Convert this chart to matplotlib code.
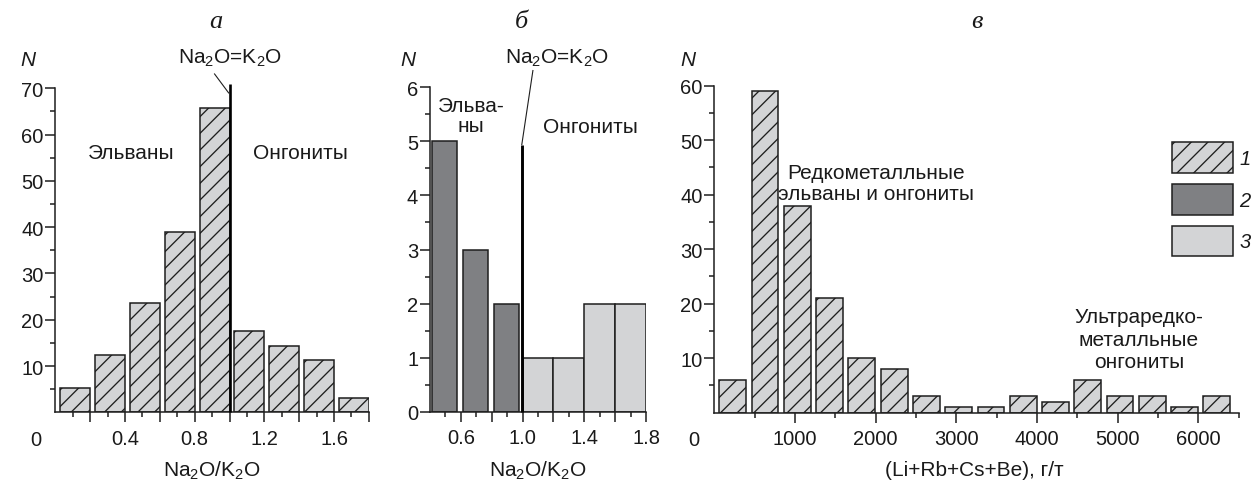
import numpy as np
import matplotlib
matplotlib.use("Agg")
import matplotlib.pyplot as plt
from matplotlib.patches import Patch

# ---------------- data ----------------
# (a) Na2O/K2O, all rare-metal dykes: bin left edges and counts
a_bin_left = [0.0, 0.2, 0.4, 0.6, 0.8, 1.0, 1.2, 1.4, 1.6]
a_counts = [5.2, 12.4, 23.6, 39.0, 65.8, 17.5, 14.4, 11.4, 3.1]

# (b) Na2O/K2O, ultra-rare-metal ongonites: elvans (type 2) and ongonites (type 3)
b_elvan_left = [0.4, 0.6, 0.8]
b_elvan_counts = [5, 3, 2]
b_ongonite_left = [1.0, 1.2, 1.4, 1.6]
b_ongonite_counts = [1, 1, 2, 2]

# (c) Li+Rb+Cs+Be, g/t: bin left edges and counts
c_bin_left = [0, 400, 800, 1200, 1600, 2000, 2400, 2800, 3200, 3600,
              4000, 4400, 4800, 5200, 5600, 6000]
c_counts = [6, 59, 38, 21, 10, 8, 3, 1, 1, 3, 2, 6, 3, 3, 1, 3]

a_major = [0.2, 0.4, 0.6, 0.8, 1.0, 1.2, 1.4, 1.6, 1.8]
a_major_labels = ["", "0.4", "", "0.8", "", "1.2", "", "1.6", ""]
a_minor = [0.1, 0.3, 0.5, 0.7, 0.9, 1.1, 1.3, 1.5, 1.7]
b_major = [0.6, 0.8, 1.0, 1.2, 1.4, 1.6, 1.8]
b_major_labels = ["0.6", "", "1.0", "", "1.4", "", "1.8"]
b_minor = [0.5, 0.7, 0.9, 1.1, 1.3, 1.5, 1.7]
c_major = [1000, 2000, 3000, 4000, 5000, 6000]
c_minor = [500, 1500, 2500, 3500, 4500, 5500, 6500]

legend_labels = ["1", "2", "3"]

# ---------------- style ----------------
plt.rcParams["font.family"] = ["Liberation Sans", "DejaVu Sans"]
plt.rcParams["mathtext.default"] = "regular"
plt.rcParams["hatch.color"] = "#3a3a3a"
plt.rcParams["hatch.linewidth"] = 0.95

LIGHT = "#d3d4d6"
DARK = "#7f8083"
EDGE = "#1e1e1e"
TXT = "#1a1a1a"
FS_TICK = 14.5
FS_TXT = 15
FS_LEG = 14.5
LW = 1.1

W, H = 1252, 481
fig = plt.figure(figsize=(W / 100, H / 100), dpi=100)


def axes_px(x0, x1, ytop, ybot):
    return fig.add_axes([x0 / W, 1 - ybot / H, (x1 - x0) / W, (ybot - ytop) / H])


def ftext(x, y, s, **kw):
    kw.setdefault("color", TXT)
    return fig.text(x / W, 1 - y / H, s, **kw)


def style_axes(ax):
    for side in ("top", "right"):
        ax.spines[side].set_visible(False)
    for side in ("left", "bottom"):
        ax.spines[side].set_linewidth(LW)
        ax.spines[side].set_color(EDGE)
    ax.tick_params(which="major", direction="out", length=7, width=LW,
                   color=EDGE, labelsize=FS_TICK, labelcolor=TXT)
    ax.tick_params(which="minor", direction="out", length=3.5, width=LW, color=EDGE)
    ax.tick_params(axis="x", which="major", pad=5)
    ax.tick_params(axis="y", which="major", pad=1.5)
    ax.patch.set_alpha(0)


bar_kw = dict(align="edge", edgecolor=EDGE, linewidth=LW)

# ---------------- (a) ----------------
ax_a = axes_px(55.3, 368.9, 89.3, 413.3)
ax_a.bar(np.array(a_bin_left) + 0.028, a_counts, width=0.172,
         color=LIGHT, hatch="//", **bar_kw)
ax_a.set_xlim(0, 1.8)
ax_a.set_ylim(0, 70)
ax_a.set_xticks(a_major, a_major_labels)
ax_a.set_xticks(a_minor, minor=True)
ax_a.set_yticks([10, 20, 30, 40, 50, 60, 70])
ax_a.set_yticks([5, 15, 25, 35, 45, 55, 65], minor=True)
style_axes(ax_a)
ax_a.plot([1.0, 1.0], [0, 70.9], color="black", lw=1.9, clip_on=False,
          solid_capstyle="butt", zorder=5)
ax_a.plot([0.914, 0.995], [73.1, 69.0], color=EDGE, lw=0.8, clip_on=False)

# ---------------- (b) ----------------
ax_b = axes_px(430, 646, 88.3, 412.7)
ax_b.bar(np.array(b_elvan_left) + 0.015, b_elvan_counts, width=0.163,
         color=DARK, **bar_kw)
ax_b.bar(b_ongonite_left, b_ongonite_counts, width=0.2, color=LIGHT, **bar_kw)
ax_b.set_xlim(0.4, 1.8)
ax_b.set_ylim(0, 6)
ax_b.set_xticks(b_major, b_major_labels)
ax_b.set_xticks(b_minor, minor=True)
ax_b.set_yticks([0, 1, 2, 3, 4, 5, 6])
ax_b.set_yticks([0.5, 1.5, 2.5, 3.5, 4.5, 5.5], minor=True)
style_axes(ax_b)
ax_b.plot([0.995, 0.995], [0, 4.94], color="black", lw=2.1, clip_on=False,
          solid_capstyle="butt", zorder=5)
ax_b.plot([1.067, 0.995], [6.31, 4.94], color=EDGE, lw=0.8, clip_on=False)

# ---------------- (c) ----------------
ax_c = axes_px(714.3, 1238.8, 86.7, 413.7)
ax_c.bar(np.array(c_bin_left) + 62, c_counts, width=333,
         color=LIGHT, hatch="//", **bar_kw)
ax_c.set_xlim(0, 6500)
ax_c.set_ylim(0, 60)
ax_c.set_xticks(c_major, [str(v) for v in c_major])
ax_c.set_xticks(c_minor, minor=True)
ax_c.set_yticks([10, 20, 30, 40, 50, 60])
ax_c.set_yticks([5, 15, 25, 35, 45, 55], minor=True)
style_axes(ax_c)

# legend boxes: patch height = fs * (0.65 * handleheight + 0.245)
fs_px = FS_LEG * 100 / 72
box_h = 30.5
handles = [Patch(facecolor=LIGHT, edgecolor=EDGE, hatch="//", linewidth=LW),
           Patch(facecolor=DARK, edgecolor=EDGE, linewidth=LW),
           Patch(facecolor=LIGHT, edgecolor=EDGE, linewidth=LW)]
leg = ax_c.legend(handles, legend_labels, loc="upper left",
                  bbox_to_anchor=(1171.7 / W, 1 - 143.3 / H),
                  bbox_transform=fig.transFigure, frameon=False,
                  borderpad=0, borderaxespad=0, handlelength=61.6 / fs_px,
                  handleheight=(box_h / fs_px - 0.245) / 0.65,
                  labelspacing=11.2 / fs_px, handletextpad=6.0 / fs_px,
                  prop={"size": FS_LEG, "style": "italic"})
for t in leg.get_texts():
    t.set_color(TXT)

# ---------------- texts ----------------
title_kw = dict(family=["Liberation Serif", "DejaVu Serif"], style="italic",
                size=19, ha="center", va="baseline")
ftext(216, 28, "а", **title_kw)
ftext(521.7, 28, "б", **title_kw)
ftext(977, 28, "в", **title_kw)

n_kw = dict(style="italic", size=FS_TXT, ha="center", va="center")
ftext(27.5, 60, "N", **n_kw)
ftext(408, 60, "N", **n_kw)
ftext(687.5, 60, "N", **n_kw)

zero_kw = dict(size=FS_TICK, ha="center", va="center")
ftext(36, 441, "0", **zero_kw)
ftext(694, 440, "0", **zero_kw)

# va="baseline" anchors the last line of a multi-line label
lbl_kw = dict(size=FS_TXT, ha="center", va="baseline")
ftext(230, 63.5, "Na$_2$O=K$_2$O", **lbl_kw)
ftext(556.7, 63.5, "Na$_2$O=K$_2$O", **lbl_kw)

ftext(131.7, 159.3, "Эльваны", **lbl_kw)
ftext(300, 159.3, "Онгониты", **lbl_kw)
ftext(471, 131.7, "Эльва-\nны", linespacing=1.07, **lbl_kw)
ftext(590.7, 133.3, "Онгониты", **lbl_kw)
ftext(876, 200.5, "Редкометалльные\nэльваны и онгониты", linespacing=1.18, **lbl_kw)
ftext(1139, 368.3, "Ультраредко-\nметалльные\nонгониты", linespacing=1.24, **lbl_kw)

ftext(211.7, 476.5, "Na$_2$O/K$_2$O", **lbl_kw)
ftext(538, 476.5, "Na$_2$O/K$_2$O", **lbl_kw)
ftext(974, 476.5, "(Li+Rb+Cs+Be), г/т", **lbl_kw)

fig.savefig("out.png", dpi=100, facecolor="white")
